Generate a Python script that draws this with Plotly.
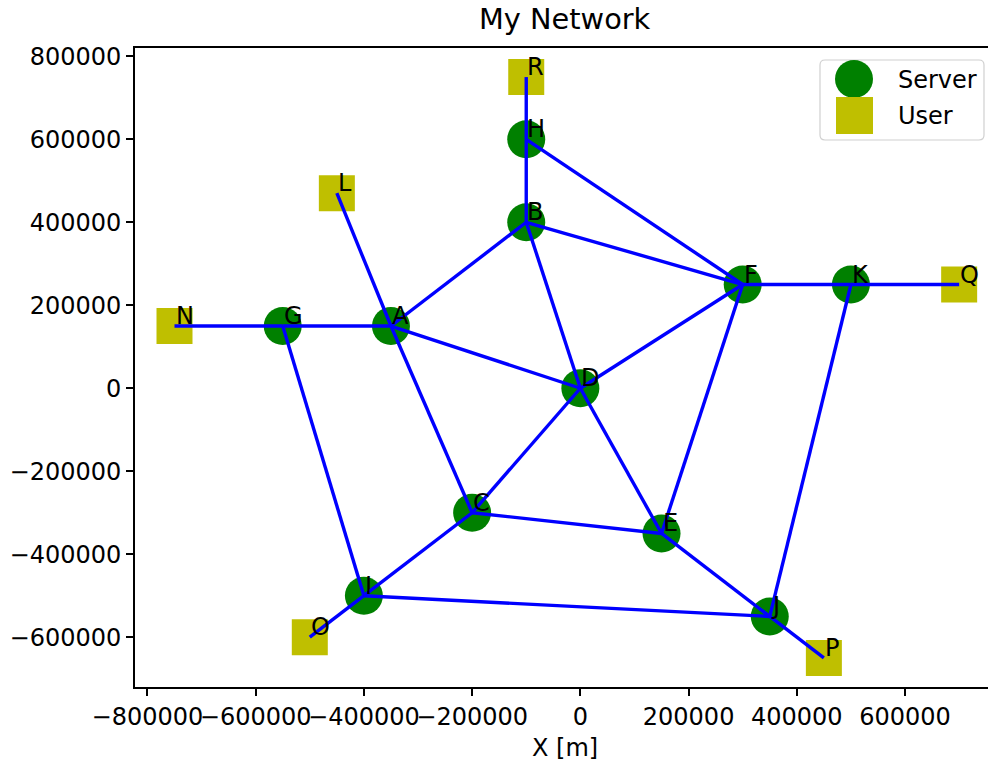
import plotly.graph_objects as go

# Network nodes: servers (green circles) and users (yellow squares)
server_names = ["A", "B", "C", "D", "E", "F", "G", "H", "I", "J", "K"]
server_x = [-350000, -100000, -200000, 0, 150000, 300000, -550000, -100000, -400000, 350000, 500000]
server_y = [150000, 400000, -300000, 0, -350000, 250000, 150000, 600000, -500000, -550000, 250000]

user_names = ["L", "N", "O", "P", "Q", "R"]
user_x = [-450000, -750000, -500000, 450000, 700000, -100000]
user_y = [470000, 150000, -600000, -650000, 250000, 750000]

# Links between nodes
edges = [
    ("R", "H"), ("H", "B"), ("H", "F"), ("B", "A"), ("B", "F"), ("B", "D"),
    ("L", "A"), ("N", "G"), ("G", "A"), ("A", "D"), ("A", "C"), ("G", "I"),
    ("I", "O"), ("I", "C"), ("I", "J"), ("C", "D"), ("C", "E"), ("D", "F"),
    ("D", "E"), ("F", "E"), ("F", "K"), ("K", "Q"), ("K", "J"), ("E", "J"),
    ("J", "P"),
]

x_tickvals = [-800000, -600000, -400000, -200000, 0, 200000, 400000, 600000]
x_ticktext = ["\u2212800000", "\u2212600000", "\u2212400000", "\u2212200000", "0", "200000", "400000", "600000"]
y_tickvals = [-600000, -400000, -200000, 0, 200000, 400000, 600000, 800000]
y_ticktext = ["\u2212600000", "\u2212400000", "\u2212200000", "0", "200000", "400000", "600000", "800000"]

GREEN = "#008000"
YELLOW = "#bfbf00"
BLUE = "#0000ff"
FONT = "DejaVu Sans"
FS = 24

pos = {}
for n, x, y in zip(server_names, server_x, server_y):
    pos[n] = (x, y)
for n, x, y in zip(user_names, user_x, user_y):
    pos[n] = (x, y)

edge_x, edge_y = [], []
for a, b in edges:
    edge_x += [pos[a][0], pos[b][0], None]
    edge_y += [pos[a][1], pos[b][1], None]

fig = go.Figure()
fig.add_trace(go.Scatter(
    x=server_x, y=server_y, mode="markers", name="Server",
    marker=dict(symbol="circle", size=38, color=GREEN, line=dict(width=0)),
    showlegend=False, hoverinfo="skip",
))
fig.add_trace(go.Scatter(
    x=user_x, y=user_y, mode="markers", name="User",
    marker=dict(symbol="square", size=36, color=YELLOW, line=dict(width=0)),
    showlegend=False, hoverinfo="skip",
))
fig.add_trace(go.Scatter(
    x=edge_x, y=edge_y, mode="lines",
    line=dict(color=BLUE, width=3.4),
    showlegend=False, hoverinfo="skip",
))

annotations = []
# node name labels, baseline on the node position
for n, (x, y) in pos.items():
    annotations.append(dict(
        x=x, y=y, xref="x", yref="y", text=n, showarrow=False,
        xanchor="left", yanchor="bottom", xshift=-1, yshift=-6,
        font=dict(family=FONT, size=FS, color="black"),
    ))

# plot area in pixels
W, H = 988, 767
L_M, R_M, T_M, B_M = 135, 0, 48, 80
PW, PH = W - L_M - R_M, H - T_M - B_M


def px(xp):
    return (xp - L_M) / PW


def py(yp):
    return (H - B_M - yp) / PH


# title and axis label
annotations.append(dict(
    x=px(565), y=1, xref="paper", yref="paper", text="My Network", showarrow=False,
    xanchor="center", yanchor="bottom", yshift=10,
    font=dict(family=FONT, size=28.8, color="black"),
))
annotations.append(dict(
    x=px(565), y=0, xref="paper", yref="paper", text="X [m]", showarrow=False,
    xanchor="center", yanchor="bottom", yshift=-77,
    font=dict(family=FONT, size=FS, color="black"),
))

# legend box
shapes = []
lx0, lx1, ly0, ly1, r = 820, 984, 60, 140, 5
path = (
    f"M {px(lx0 + r)},{py(ly0)} L {px(lx1 - r)},{py(ly0)} "
    f"Q {px(lx1)},{py(ly0)} {px(lx1)},{py(ly0 + r)} "
    f"L {px(lx1)},{py(ly1 - r)} Q {px(lx1)},{py(ly1)} {px(lx1 - r)},{py(ly1)} "
    f"L {px(lx0 + r)},{py(ly1)} Q {px(lx0)},{py(ly1)} {px(lx0)},{py(ly1 - r)} "
    f"L {px(lx0)},{py(ly0 + r)} Q {px(lx0)},{py(ly0)} {px(lx0 + r)},{py(ly0)} Z"
)
shapes.append(dict(type="path", xref="paper", yref="paper", path=path,
                   line=dict(color="#d0d0d0", width=1.2), fillcolor="rgba(255,255,255,0.8)",
                   layer="above"))
shapes.append(dict(type="circle", xref="paper", yref="paper",
                   x0=px(835), x1=px(873), y0=py(60), y1=py(98),
                   fillcolor=GREEN, line=dict(width=0), layer="above"))
shapes.append(dict(type="rect", xref="paper", yref="paper",
                   x0=px(836), x1=px(873), y0=py(97), y1=py(134),
                   fillcolor=YELLOW, line=dict(width=0), layer="above"))
annotations.append(dict(
    x=px(896), y=py(80), xref="paper", yref="paper", text="Server", showarrow=False,
    xanchor="left", yanchor="middle", font=dict(family=FONT, size=FS, color="black"),
))
annotations.append(dict(
    x=px(896), y=py(116), xref="paper", yref="paper", text="User", showarrow=False,
    xanchor="left", yanchor="middle", font=dict(family=FONT, size=FS, color="black"),
))

fig.update_layout(
    width=W, height=H,
    margin=dict(l=L_M, r=R_M, t=T_M, b=B_M, pad=0, autoexpand=False),
    paper_bgcolor="white", plot_bgcolor="white",
    font=dict(family=FONT, size=FS, color="black"),
    showlegend=False,
    annotations=annotations,
    shapes=shapes,
)
fig.update_xaxes(
    range=[-823000, 753300], tickmode="array", tickvals=x_tickvals, ticktext=x_ticktext,
    tickangle=0, automargin=False,
    showgrid=False, zeroline=False, showline=True, linecolor="black", linewidth=1.8,
    mirror=True, ticks="outside", ticklen=7, tickwidth=1.5, tickcolor="black",
    tickfont=dict(family=FONT, size=FS, color="black"),
)
fig.update_yaxes(
    range=[-720000, 820000], tickmode="array", tickvals=y_tickvals, ticktext=y_ticktext,
    automargin=False,
    showgrid=False, zeroline=False, showline=True, linecolor="black", linewidth=1.8,
    mirror=False, ticks="outside", ticklen=7, tickwidth=1.5, tickcolor="black",
    tickfont=dict(family=FONT, size=FS, color="black"),
)

fig.write_html("out.html")
